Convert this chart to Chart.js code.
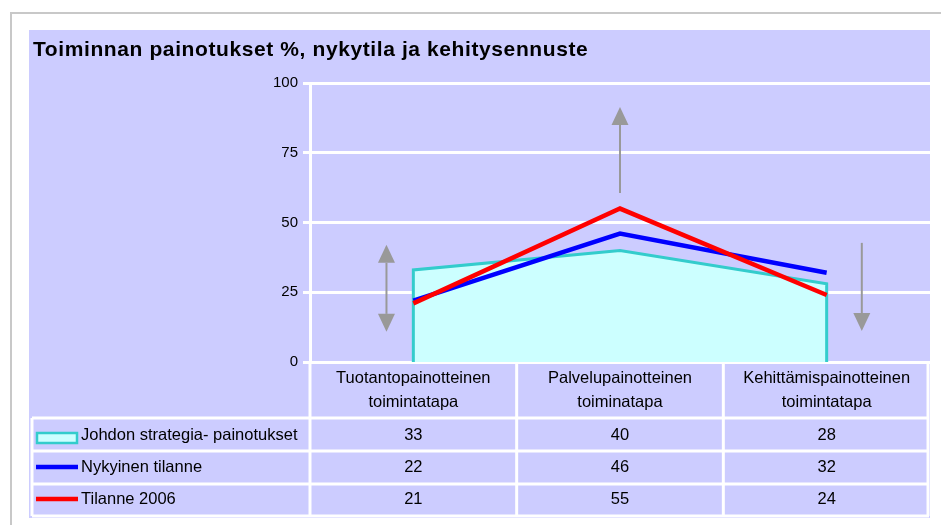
<!DOCTYPE html>
<html>
<head>
<meta charset="utf-8">
<script src="https://cdn.jsdelivr.net/npm/chart.js@4/dist/chart.umd.min.js"></script>
<style>
  html, body { margin: 0; padding: 0; background: #fff; }
  body { width: 941px; height: 525px; position: relative; overflow: hidden; }
  #frame { position: absolute; left: 10px; top: 12px; width: 940px; height: 520px;
           border-top: 2px solid #c8c8c8; border-left: 2px solid #c8c8c8; }
  #chart { position: absolute; left: 29px; top: 30px; background: #ccccff; }
</style>
</head>
<body>
<div id="frame"></div>
<canvas id="chart" width="901" height="488"></canvas>
<script>
// Categories (two-line labels in the data table)
const categories = [
    ['Tuotantopainotteinen', 'toimintatapa'],
    ['Palvelupainotteinen', 'toiminatapa'],
    ['Kehittämispainotteinen', 'toimintatapa']
];

// Series values
const strategia = [33, 40, 28];
const nykyinen = [22, 46, 32];
const tilanne2006 = [21, 55, 24];

const seriesNames = ['Johdon strategia- painotukset', 'Nykyinen tilanne', 'Tilanne 2006'];
const yTicks = [0, 25, 50, 75, 100];
const chartTitle = 'Toiminnan painotukset %, nykytila ja kehitysennuste';

// Gray arrows (x in category index, y in %)
const arrowX = [-0.13, 1, 2.17];
const arrowTop = [42, 91.4, 42.7];
const arrowBottom = [10.8, 60.6, 11.1];
const arrowHeads = ['both', 'up', 'down'];

const FONT = '"Liberation Sans", Arial, sans-serif';

// area: drop to zero at the first and last category so the edges get a border
const areaPoints = [{ x: 0, y: 0 }]
    .concat(strategia.map((v, i) => ({ x: i, y: v })))
    .concat([{ x: strategia.length - 1, y: 0 }]);

const toPoints = arr => arr.map((v, i) => ({ x: i, y: v }));

// title drawn by hand so it can get a little letter spacing
const titlePlugin = {
    id: 'wideTitle',
    afterDraw(chart) {
        const ctx = chart.ctx;
        ctx.save();
        ctx.font = 'bold 21px ' + FONT;
        ctx.letterSpacing = '0.6px';
        ctx.fillStyle = '#000';
        ctx.textAlign = 'left';
        ctx.textBaseline = 'middle';
        ctx.fillText(chartTitle, 4, 20);
        ctx.restore();
    }
};

const arrowPlugin = {
    id: 'arrows',
    afterDatasetsDraw(chart) {
        const ctx = chart.ctx;
        const xs = chart.scales.x, ys = chart.scales.y;
        ctx.save();
        ctx.strokeStyle = '#999999';
        ctx.fillStyle = '#999999';
        ctx.lineWidth = 2;
        arrowX.forEach((ax, i) => {
            const x = xs.getPixelForValue(ax);
            const yt = ys.getPixelForValue(arrowTop[i]);
            const yb = ys.getPixelForValue(arrowBottom[i]);
            const hw = 8.5, hl = 18;
            const kind = arrowHeads[i];
            const s1 = (kind === 'both' || kind === 'up') ? yt + hl : yt;
            const s2 = (kind === 'both' || kind === 'down') ? yb - hl : yb;
            ctx.beginPath();
            ctx.moveTo(x, s1);
            ctx.lineTo(x, s2);
            ctx.stroke();
            if (kind === 'both' || kind === 'up') {
                ctx.beginPath();
                ctx.moveTo(x, yt);
                ctx.lineTo(x - hw, yt + hl);
                ctx.lineTo(x + hw, yt + hl);
                ctx.closePath();
                ctx.fill();
            }
            if (kind === 'both' || kind === 'down') {
                ctx.beginPath();
                ctx.moveTo(x, yb);
                ctx.lineTo(x - hw, yb - hl);
                ctx.lineTo(x + hw, yb - hl);
                ctx.closePath();
                ctx.fill();
            }
        });
        ctx.restore();
    }
};

// data table under the plot
const tablePlugin = {
    id: 'dataTable',
    afterDraw(chart) {
        const ctx = chart.ctx;
        const xs = chart.scales.x;
        const area = chart.chartArea;
        const B = area.bottom;
        const leftX = 3;
        const rowLines = [B + 56, B + 89, B + 122, B + 154];
        const rowMid = [B + 73, B + 105, B + 137];
        ctx.save();
        ctx.strokeStyle = '#ffffff';
        ctx.lineWidth = 3;
        // horizontal lines
        rowLines.forEach(y => {
            ctx.beginPath();
            ctx.moveTo(leftX, y);
            ctx.lineTo(area.right - 1, y);
            ctx.stroke();
        });
        // vertical lines at column boundaries
        for (let i = 0; i <= categories.length; i++) {
            let x = xs.getPixelForValue(i - 0.5);
            if (i === categories.length) x -= 2;
            ctx.beginPath();
            ctx.moveTo(x, B);
            ctx.lineTo(x, rowLines[3]);
            ctx.stroke();
        }
        ctx.beginPath();
        ctx.moveTo(leftX, rowLines[0]);
        ctx.lineTo(leftX, rowLines[3]);
        ctx.stroke();

        // header
        ctx.fillStyle = '#000';
        ctx.textAlign = 'center';
        ctx.textBaseline = 'middle';
        ctx.font = '16.5px ' + FONT;
        categories.forEach((lab, i) => {
            const x = xs.getPixelForValue(i);
            ctx.fillText(lab[0], x, B + 16);
            ctx.fillText(lab[1], x, B + 40);
        });
        // values
        [strategia, nykyinen, tilanne2006].forEach((arr, r) => {
            arr.forEach((v, i) => {
                ctx.fillText(String(v), xs.getPixelForValue(i), rowMid[r]);
            });
        });
        // legend keys and names
        ctx.textAlign = 'left';
        seriesNames.forEach((name, r) => {
            ctx.fillText(name, 52, rowMid[r]);
        });
        ctx.fillStyle = '#ccffff';
        ctx.fillRect(8, rowMid[0] - 2, 40, 10);
        ctx.strokeStyle = '#33cccc';
        ctx.lineWidth = 2.5;
        ctx.strokeRect(8, rowMid[0] - 2, 40, 10);
        ctx.lineWidth = 4.5;
        ctx.strokeStyle = '#0000ff';
        ctx.beginPath();
        ctx.moveTo(7, rowMid[1]);
        ctx.lineTo(49, rowMid[1]);
        ctx.stroke();
        ctx.strokeStyle = '#ff0000';
        ctx.beginPath();
        ctx.moveTo(7, rowMid[2]);
        ctx.lineTo(49, rowMid[2]);
        ctx.stroke();
        ctx.restore();
    }
};

new Chart(document.getElementById('chart'), {
    type: 'line',
    data: {
        datasets: [
            {
                label: seriesNames[0],
                data: areaPoints,
                borderColor: '#33cccc',
                backgroundColor: '#ccffff',
                borderWidth: 3,
                fill: 'origin',
                pointRadius: 0,
                order: 3
            },
            {
                label: seriesNames[1],
                data: toPoints(nykyinen),
                borderColor: '#0000ff',
                borderWidth: 4.5,
                fill: false,
                pointRadius: 0,
                order: 2
            },
            {
                label: seriesNames[2],
                data: toPoints(tilanne2006),
                borderColor: '#ff0000',
                borderWidth: 4.5,
                fill: false,
                pointRadius: 0,
                order: 1
            }
        ]
    },
    options: {
        responsive: false,
        animation: false,
        devicePixelRatio: 1,
        layout: { padding: { left: 4, right: 0, top: 53, bottom: 156 } },
        plugins: {
            legend: { display: false },
            tooltip: { enabled: false },
            title: { display: false }
        },
        scales: {
            x: {
                type: 'linear',
                min: -0.5,
                max: categories.length - 0.5,
                display: false
            },
            y: {
                min: 0,
                max: 100,
                afterFit(scale) { scale.width = 277; },
                afterBuildTicks(scale) { scale.ticks = yTicks.map(v => ({ value: v })); },
                ticks: {
                    color: '#000',
                    font: { family: FONT, size: 15 },
                    padding: 5
                },
                grid: { color: '#ffffff', lineWidth: 3, tickLength: 7, tickColor: '#ffffff' },
                border: { display: true, color: '#ffffff', width: 3 }
            }
        }
    },
    plugins: [titlePlugin, arrowPlugin, tablePlugin]
});
</script>
</body>
</html>
